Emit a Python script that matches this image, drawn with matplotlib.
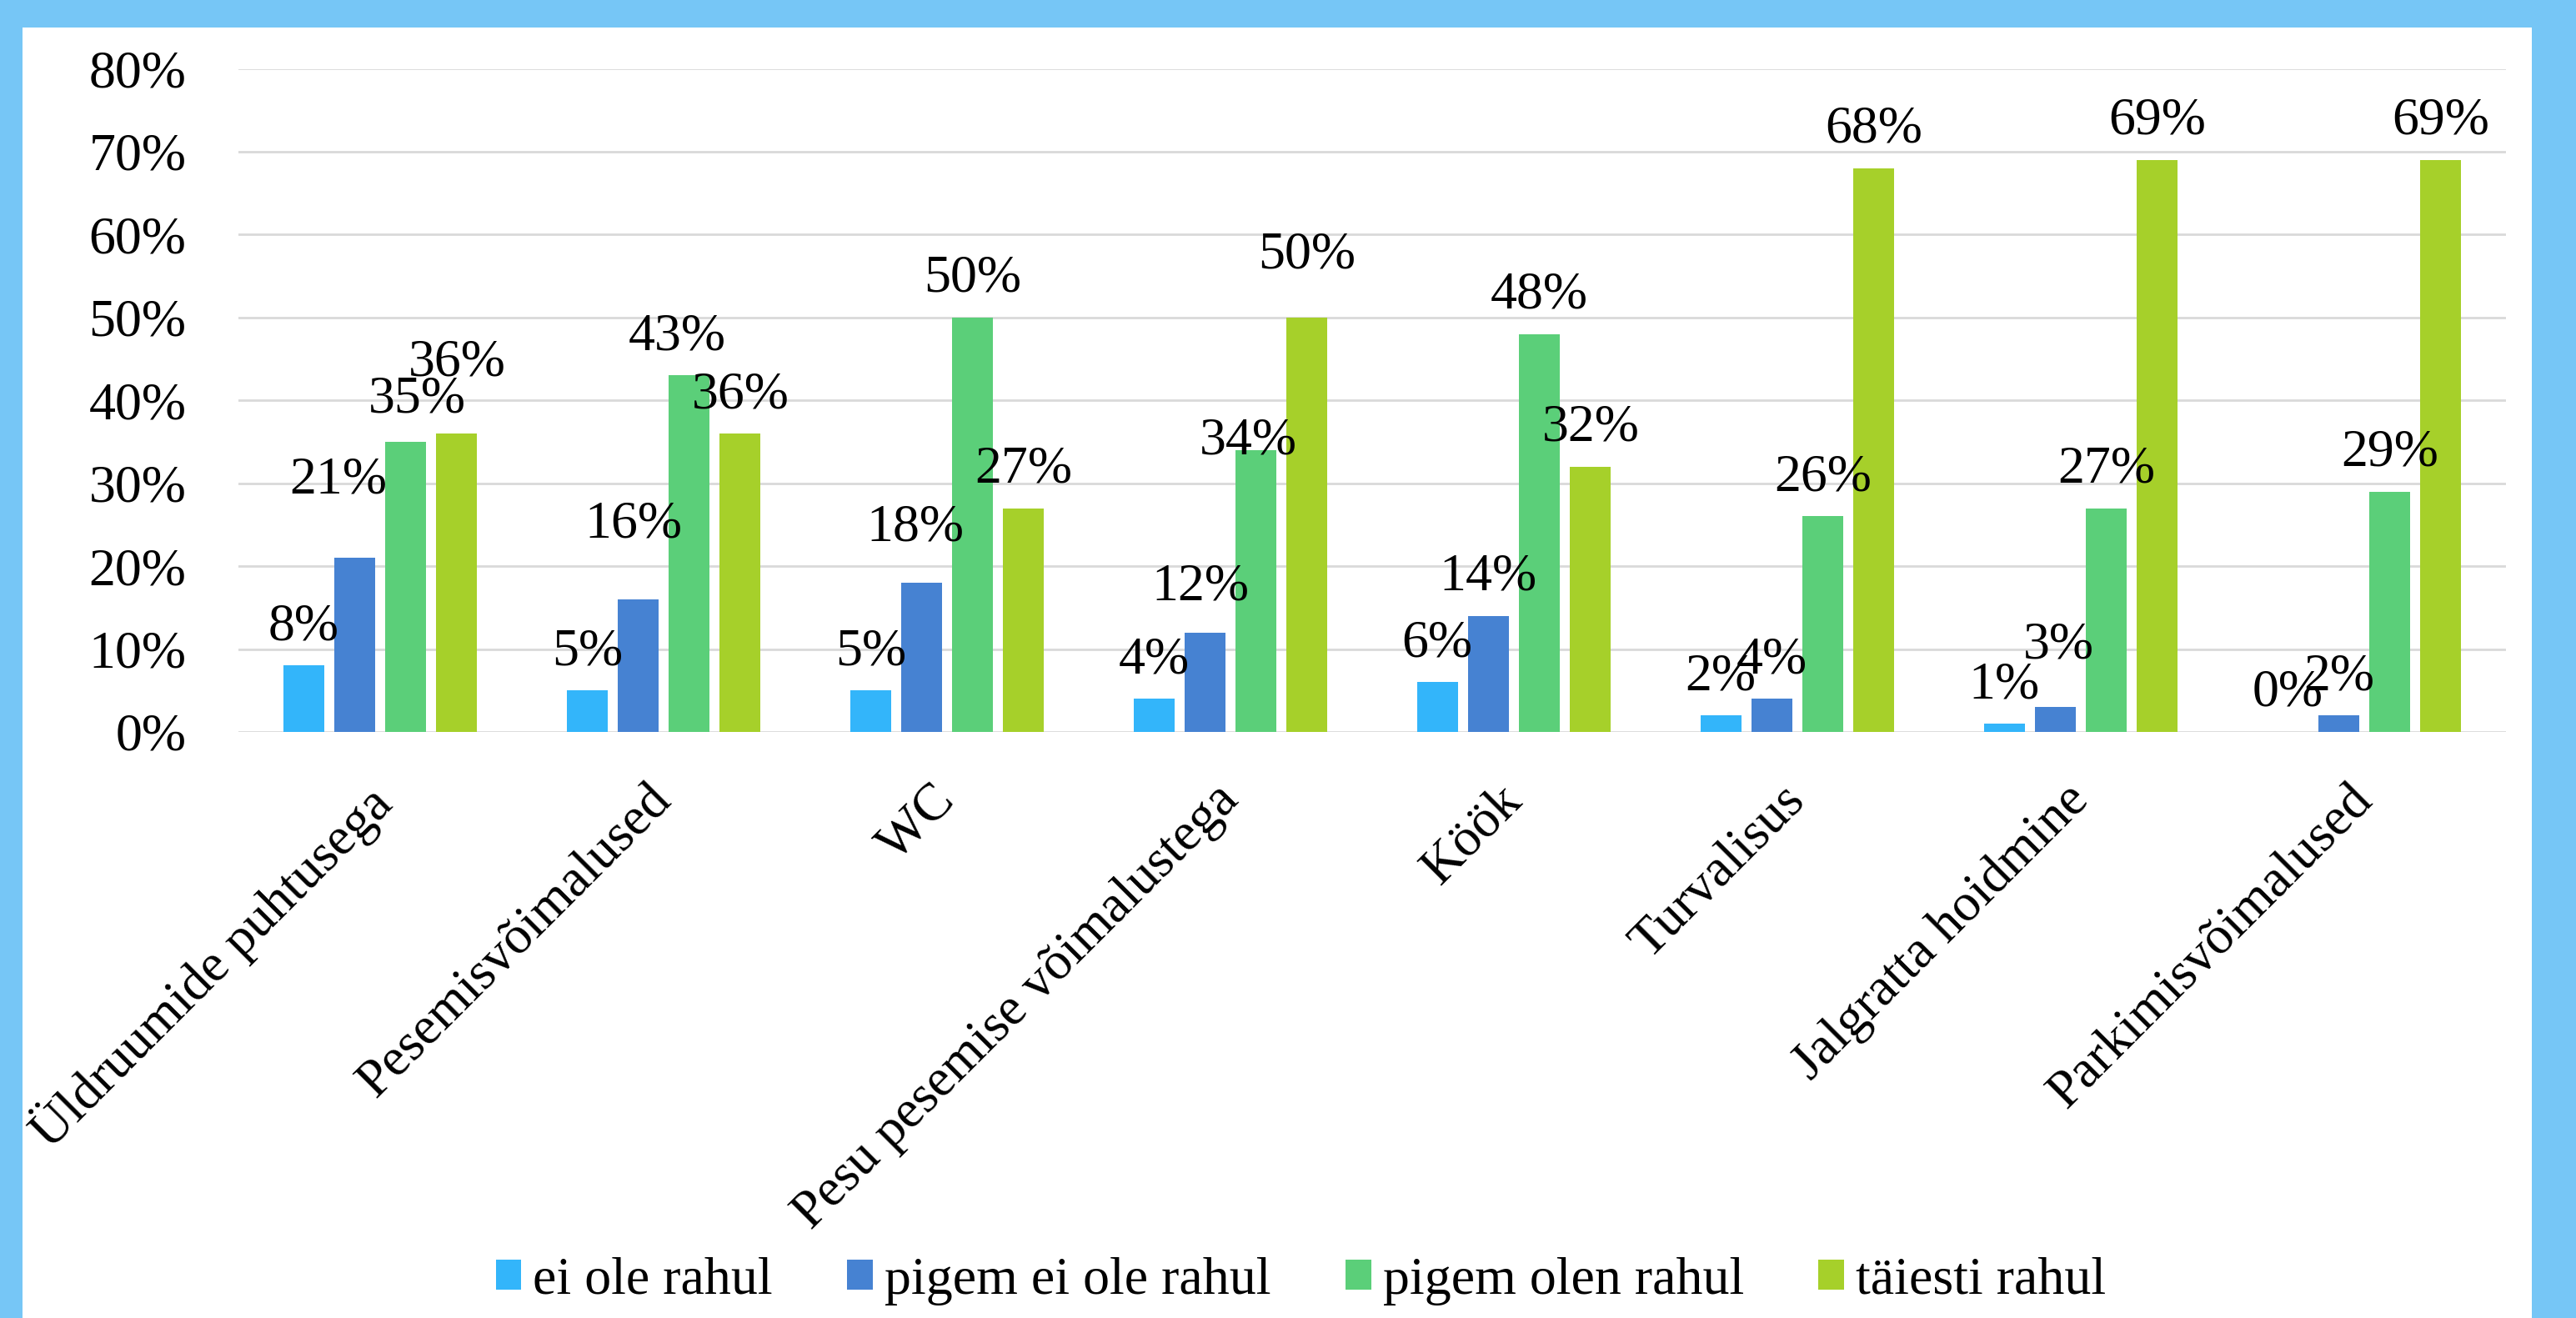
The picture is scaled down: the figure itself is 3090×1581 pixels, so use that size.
import matplotlib
matplotlib.use("Agg")
import matplotlib.pyplot as plt
import matplotlib.transforms as mtransforms
from matplotlib.patches import Rectangle
import numpy as np

# survey data, percent of answers
categories = ["Üldruumide puhtusega", "Pesemisvõimalused", "WC",
              "Pesu pesemise võimalustega", "Köök", "Turvalisus",
              "Jalgratta hoidmine", "Parkimisvõimalused"]
series_names = ["ei ole rahul", "pigem ei ole rahul", "pigem olen rahul", "täiesti rahul"]
ei_ole = [8, 5, 5, 4, 6, 2, 1, 0]
pigem_ei_ole = [21, 16, 18, 12, 14, 4, 3, 2]
pigem_olen = [35, 43, 50, 34, 48, 26, 27, 29]
taiesti = [36, 36, 27, 50, 32, 68, 69, 69]
yticks = [0, 10, 20, 30, 40, 50, 60, 70, 80]

colors = ["#33B5FA", "#4682D2", "#5BCF79", "#A6D02A"]
slide_blue = "#76C6F6"

# a few labels were moved by hand in the original (pixels: dx, dy)
label_nudge = {(0, 1): (-20, 47), (0, 2): (14, 4), (0, 3): (0, 39),
               (1, 1): (-6, 43), (1, 2): (-14, 0),
               (2, 1): (-8, 20),
               (3, 1): (-6, 8), (3, 2): (-9, -36), (3, 3): (0, 28),
               (6, 1): (4, 28)}

plt.rcParams['font.family'] = ['Liberation Serif', 'DejaVu Serif']
fs = 46

fig = plt.figure(figsize=(30.9, 15.81), dpi=100)
fig.patch.set_facecolor(slide_blue)
# white chart area on the slide
fig.add_artist(Rectangle((27 / 3090, 0), (3037 - 27) / 3090, 1 - 33 / 1581,
                         transform=fig.transFigure, facecolor="white",
                         edgecolor="none", zorder=0))

ax = fig.add_axes([286 / 3090, 1 - 878 / 1581, 2720 / 3090, (878 - 82.5) / 1581])
ax.set_facecolor("none")

x = np.arange(len(categories))
width = 0.144
step = 0.18
all_series = [ei_ole, pigem_ei_ole, pigem_olen, taiesti]
for i, vals in enumerate(all_series):
    pos = x + (i - 1.5) * step
    bars = ax.bar(pos, vals, width, color=colors[i], label=series_names[i], zorder=3)
    for j, b in enumerate(bars):
        dx, dy = label_nudge.get((j, i), (0, 0))
        ax.annotate(f"{vals[j]}%", (b.get_x() + b.get_width() / 2, b.get_height()),
                    xytext=(dx, 46 + dy), textcoords="offset pixels",
                    ha="center", va="center", fontsize=fs, zorder=4)

ax.set_xlim(-0.5, len(categories) - 0.5)
ax.set_ylim(0, 80)
ax.set_yticks(yticks)
ax.set_yticklabels([f"{t}%" for t in yticks], fontsize=fs)
ax.set_xticks(x)
ax.set_xticklabels(categories, fontsize=fs, rotation=45, ha="right",
                   va="top", rotation_mode="anchor")
ax.tick_params(axis="both", length=0)
ax.tick_params(axis="y", pad=45)
ax.tick_params(axis="x", pad=38)
# move category labels a little to the left, like in the original
shift = mtransforms.ScaledTranslation(-0.2, 0, fig.dpi_scale_trans)
for lbl in ax.get_xticklabels():
    lbl.set_transform(lbl.get_transform() + shift)
ax.grid(axis="y", color="#D9D9D9", linewidth=2, zorder=0)
for s in ax.spines.values():
    s.set_visible(False)

fig.legend(loc="center", bbox_to_anchor=(0.505, 0.028), ncol=4, frameon=False,
           fontsize=fs, handlelength=0.48, handleheight=0.5, handletextpad=0.22,
           columnspacing=1.4)

fig.savefig("out.png", dpi=100, facecolor=fig.get_facecolor())
